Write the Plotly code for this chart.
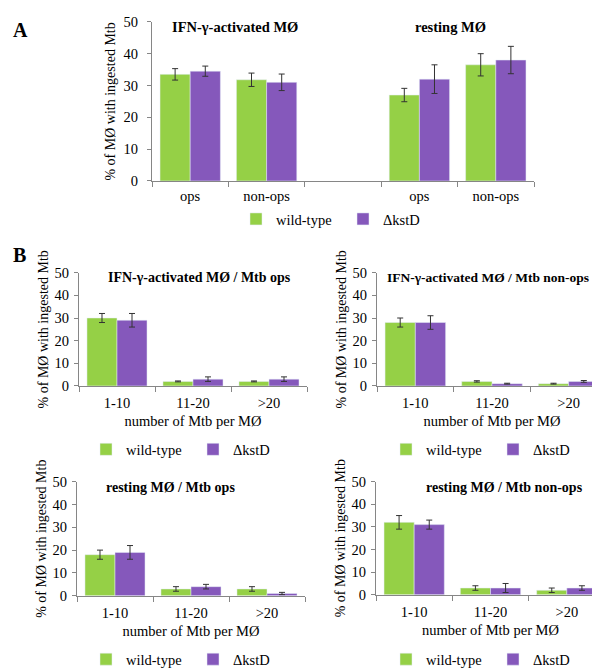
import plotly.graph_objects as go

# ---------------- data ----------------
series_names = ["wild-type", "\u0394kstD"]
green = "#95d046"
purple = "#8558bb"

# Panel A
a_cats = ["IFN ops", "IFN non-ops", "gap", "rest ops", "rest non-ops"]
a_labels = ["ops", "non-ops", "", "ops", "non-ops"]
a_wt = [33.5, 31.8, None, 27.0, 36.5]
a_wt_err = [1.8, 2.1, None, 2.1, 3.5]
a_ko = [34.5, 31.0, None, 32.0, 38.0]
a_ko_err = [1.6, 2.6, None, 4.5, 4.3]

# Panel B
b_cats = ["1-10", "11-20", ">20"]
b_titles = ["IFN-\u03b3-activated M\u00d8 / Mtb ops",
            "IFN-\u03b3-activated M\u00d8 / Mtb non-ops",
            "resting M\u00d8 / Mtb ops",
            "resting M\u00d8 / Mtb non-ops"]
b_wt = [[30, 2, 2], [28, 2, 1], [18, 3, 3], [32, 3, 2]]
b_wt_err = [[2, 0.2, 0.2], [2, 0.3, 0.2], [2, 1, 1], [3, 1, 1]]
b_ko = [[29, 3, 3], [28, 1, 2], [19, 4, 1], [31, 3, 3]]
b_ko_err = [[3, 1, 1], [3, 0.2, 0.4], [3, 1, 0.5], [2, 2, 1]]

yticks = [0, 10, 20, 30, 40, 50]

# ---------------- layout geometry ----------------
W, H = 600, 669
def px_x(x):
    return x / W
def px_y(y):
    return 1 - y / H

FONT = "Liberation Serif"
axis_col = "#868686"
err_col = "#333333"

fig = go.Figure()

# domains: (x0, x1, y_bottom_px, y_top_px)
domains = [
    (144, 526, 169, 6),   # A
    (71, 299, 379, 263),  # B TL
    (369, 599, 379, 263), # B TR
    (69, 297, 594, 477),  # B BL
    (368, 597, 593, 477), # B BR
]
legend_pos = [(335, 208), (185, 444), (485, 444), (185, 659), (485, 659)]

def err(e):
    return dict(type="data", array=e, visible=True, color=err_col, thickness=1, width=3)

# Panel A traces
fig.add_trace(go.Bar(x=a_cats, y=a_wt, name=series_names[0], marker_color=green,
                     error_y=err(a_wt_err), xaxis="x", yaxis="y", legend="legend"))
fig.add_trace(go.Bar(x=a_cats, y=a_ko, name=series_names[1], marker_color=purple,
                     error_y=err(a_ko_err), xaxis="x", yaxis="y", legend="legend"))

for i in range(4):
    ax = str(i + 2)
    lg = "legend" + ax
    fig.add_trace(go.Bar(x=b_cats, y=b_wt[i], name=series_names[0], marker_color=green,
                         error_y=err(b_wt_err[i]), xaxis="x" + ax, yaxis="y" + ax, legend=lg))
    fig.add_trace(go.Bar(x=b_cats, y=b_ko[i], name=series_names[1], marker_color=purple,
                         error_y=err(b_ko_err[i]), xaxis="x" + ax, yaxis="y" + ax, legend=lg))

tickfont = dict(family=FONT, size=14.5, color="#000000")
layout = dict(
    width=W, height=H,
    margin=dict(l=0, r=0, t=0, b=0),
    paper_bgcolor="white", plot_bgcolor="white",
    barmode="group", bargap=0.21, bargroupgap=0,
    font=dict(family=FONT, size=14, color="#000000"),
    showlegend=True,
)

for i, (x0, x1, yb, yt) in enumerate(domains):
    key = "" if i == 0 else str(i + 1)
    xa = dict(domain=[px_x(x0), px_x(x1)], anchor="y" + key, showline=True,
              linecolor=axis_col, linewidth=1, ticks="outside", tickson="boundaries",
              ticklen=5, tickcolor=axis_col, showgrid=False, zeroline=False,
              tickfont=tickfont, ticklabelstandoff=4, fixedrange=True)
    if i == 0:
        xa.update(type="category", categoryorder="array", categoryarray=a_cats,
                  tickmode="array", tickvals=a_cats, ticktext=a_labels,
                  ticklabelstandoff=2)
    else:
        xa.update(type="category", categoryorder="array", categoryarray=b_cats,
                  title=dict(text="number of Mtb per M\u00d8",
                             font=dict(family=FONT, size=14.5), standoff=5))
    ya = dict(domain=[px_y(yb), px_y(yt)], anchor="x" + key, range=[0, 50],
              tickvals=yticks, showline=True, linecolor=axis_col, linewidth=1,
              ticks="outside", ticklen=4, tickcolor=axis_col, showgrid=False,
              zeroline=False, tickfont=tickfont, fixedrange=True,
              ticklabelstandoff=(6 if i == 0 else 2),
              title=dict(text="% of M\u00d8 with ingested Mtb",
                         font=dict(family=FONT, size=14), standoff=(4 if i == 0 else 2)))
    layout["xaxis" + key] = xa
    layout["yaxis" + key] = ya
    lx, ly = legend_pos[i]
    layout["legend" + key] = dict(orientation="h", x=px_x(lx), y=px_y(ly),
                                  xanchor="center", yanchor="middle",
                                  font=dict(family=FONT, size=14.5),
                                  bgcolor="rgba(0,0,0,0)", itemwidth=30,
                                  entrywidth=62, entrywidthmode="pixels",
                                  traceorder="normal")

fig.update_layout(**layout)

def ann(text, x, y, size=14, bold=True, xanchor="center"):
    fig.add_annotation(text=("<b>%s</b>" % text) if bold else text,
                       x=px_x(x), y=px_y(y), xref="paper", yref="paper",
                       xanchor=xanchor, yanchor="middle", showarrow=False,
                       font=dict(family=FONT, size=size, color="#000000"))

ann("A", 3, 14, size=20, xanchor="left")
ann("B", 3, 245, size=20, xanchor="left")
ann("IFN-\u03b3-activated M\u00d8", 227, 11, size=14.5)
ann("resting M\u00d8", 442, 11, size=14.5)
b_title_pos = [(191, 268), (480, 268), (162, 483), (496, 483)]
b_title_size = [14, 13.5, 14, 14]
for t, (x, y), s in zip(b_titles, b_title_pos, b_title_size):
    ann(t, x, y, size=s)

fig.write_html("out.html")
